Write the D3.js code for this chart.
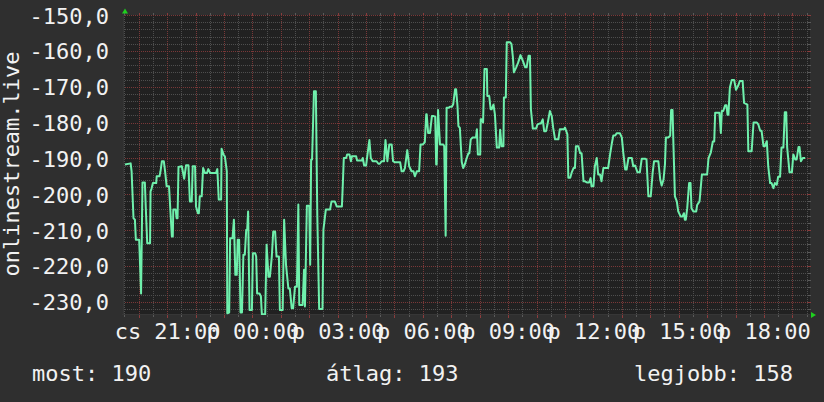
<!DOCTYPE html>
<html><head><meta charset="utf-8">
<script src="https://cdn.jsdelivr.net/npm/d3@7"></script>
<style>
html,body{margin:0;padding:0;background:#2f2f2f;}
svg{display:block;}
text{font-family:"DejaVu Sans Mono",monospace;font-size:22px;fill:#f2f2f2;}
</style></head><body>
<svg id="c" width="824" height="402"></svg>
<script>
// minutes after Thursday 19:00
const timeMinutes = [
31,43,45,49,52,54,61,65,68,73,
75,78,84,85,87,90,97,98,104,106,
109,113,116,119,124,126,130,132,133,138,
140,142,144,151,156,160,165,168,172,174,
179,181,185,187,189,193,196,200,204,207,
211,223,226,229,234,235,239,242,246,247,
251,253,258,261,264,267,269,272,275,278,
281,284,287,289,291,294,299,301,306,308,
310,315,318,320,327,330,334,337,341,344,
348,351,356,358,364,367,371,376,379,383,
386,390,394,397,399,406,409,411,415,420,
422,424,426,430,434,437,441,448,450,455,
464,467,474,478,489,491,493,498,500,505,
508,510,519,521,531,533,536,540,543,547,
550,554,562,566,569,573,578,581,585,589,
594,597,601,612,615,619,622,627,631,636,
640,643,647,652,655,660,664,667,668,671,
675,679,683,686,688,689,692,696,703,705,
708,710,714,717,721,724,728,730,733,735,
738,742,745,749,752,756,758,761,765,772,
774,776,781,782,784,787,790,795,796,800,
803,805,809,812,816,821,823,826,830,831,
835,837,844,847,850,852,857,861,866,871,
876,879,883,886,888,892,899,902,906,909,
913,916,920,923,928,932,935,939,946,949,
958,960,965,967,971,974,978,981,983,988,
992,995,999,1002,1006,1011,1014,1016,1020,1023,
1027,1030,1034,1037,1041,1051,1055,1059,1062,1066,
1069,1076,1080,1083,1087,1090,1094,1101,1104,1108,
1113,1118,1122,1129,1132,1136,1141,1145,1148,1154,
1157,1161,1164,1168,1171,1173,1178,1182,1184,1187,
1189,1192,1196,1199,1204,1208,1211,1213,1215,1218,
1222,1225,1227,1231,1237,1239,1244,1249,1260,1263,
1268,1272,1275,1277,1286,1289,1291,1294,1298,1301,
1303,1305,1308,1312,1317,1321,1326,1329,1335,1338,
1345,1347,1354,1358,1365,1368,1372,1375,1379,1382,
1386,1389,1393,1396,1400,1403,1407,1410,1414,1417,
1421,1424,1427,1429,1434,1439,1442,1446,1449,1453,
1455,1458,1462,1467
];
const values = [
-191.7,-191.4,-193.6,-206.7,-207.1,-212.7,-212.7,-227.7,-196.7,-196.7,
-203.9,-213.7,-213.7,-199.2,-198.5,-196.9,-196.9,-195,-195,-193.6,
-190.8,-190.8,-194,-197.8,-197.8,-202.5,-211.8,-211.8,-204.3,-204.3,
-206.7,-206.7,-192.4,-192.2,-195.7,-191.9,-191.9,-202,-202,-192.2,
-192.2,-203.4,-205.3,-205.3,-200.6,-200.6,-192.7,-194.1,-194.1,-193,
-194.1,-194.1,-193,-201.5,-201.5,-187.3,-188.9,-189.5,-193.6,-233.2,
-233,-212.3,-212.3,-207.1,-222.5,-222.5,-212.7,-212.7,-233,-233,
-216.9,-216.9,-209.9,-209.9,-204.8,-232.3,-232.3,-216.5,-216.5,-217.4,
-227.7,-227.7,-228.5,-233.5,-233.5,-214.1,-223,-223,-217.4,-210.4,
-210.4,-217.4,-217.4,-232.3,-232.3,-207.1,-219.7,-226.3,-226.3,-231.8,
-231.8,-225.8,-225.8,-202.9,-230.9,-230.9,-221.1,-231.3,-203.2,-203.2,
-219.7,-190.3,-190.3,-171.3,-171.3,-205.7,-232,-232,-209.9,-204.3,
-204.3,-202,-202,-203.4,-203.4,-196.9,-189.9,-189.9,-188.9,-188.9,
-190.8,-189.4,-189.4,-190.6,-190.6,-189.9,-192,-192,-188.9,-184.9,
-189.9,-190.8,-190.8,-191.5,-191.5,-190.8,-190.8,-184.9,-190.8,-186.1,
-186.1,-190.8,-191.1,-191.1,-193.6,-193.6,-192.7,-187.7,-192.2,-193.6,
-193.6,-195,-193.6,-193.6,-186.1,-186.1,-185.5,-177.7,-177.7,-182.9,
-182.9,-178.2,-178.2,-178.4,-191.7,-191.7,-176.5,-186.1,-186.1,-186.6,
-211.6,-175.9,-175.9,-175.6,-175.6,-174.9,-170.7,-170.7,-175.4,-181,
-181.5,-191,-192.7,-191.5,-190.1,-188.6,-188.6,-184.7,-184.2,-184.2,
-181.9,-188.9,-188.9,-179.1,-179.1,-180,-165.1,-165.1,-172.6,-172.6,
-176.3,-176.3,-175,-177.7,-187,-187,-182,-186.6,-186.6,-173,
-173,-157.6,-157.6,-158.1,-161.8,-166,-164.6,-163.3,-161.2,-162.8,
-164.6,-164.6,-161.4,-161.4,-176.3,-181.7,-181.7,-180.5,-180.3,-180.3,
-179.1,-182.4,-182.4,-180.5,-176.8,-178.2,-181.5,-184.7,-184.7,-181.9,
-181.9,-181.4,-183.3,-195.4,-195.4,-194,-192.7,-192.7,-186.6,-186.6,
-188.6,-188.6,-196.4,-196.4,-196.7,-196.7,-195.5,-197.8,-197.8,-192.2,
-189.9,-194.5,-194.5,-196.4,-192.7,-192.7,-189,-185.7,-183.6,-183.6,
-183,-183,-184.2,-188.4,-193.1,-193.1,-189.9,-189.9,-192.2,-192,
-193.9,-193.9,-190.1,-190.1,-190.3,-200.6,-200.6,-194,-190.8,-190.8,
-190.8,-195.9,-197.6,-195.9,-191.7,-184.2,-184.2,-183.7,-176.5,-176.5,
-186.6,-200.6,-202,-204.8,-206.2,-206.2,-205.3,-207.1,-207.1,-203.9,
-196.9,-196.9,-203.9,-204.8,-204.8,-203,-202,-194.5,-194.5,-189.9,
-188.3,-185.3,-185.3,-177.3,-177.3,-182.9,-176.8,-176.8,-175.2,-175.2,
-177.8,-177.8,-170.3,-168.1,-168.1,-170.9,-169.6,-168.4,-168.4,-174.5,
-175,-188,-188,-180,-180,-180.5,-182.3,-182.3,-186.6,-186.6,
-185.2,-192.2,-196.9,-196.9,-198.3,-196.9,-197.4,-195.1,-195.1,-187,
-187,-177.1,-177.1,-187,-193.9,-193.9,-188.9,-190.3,-190.3,-186.8,
-186.8,-190.8,-189.9,-189.9
];
const yTickValues = [-150,-160,-170,-180,-190,-200,-210,-220,-230];
const yMinorValues = d3.range(-232, -150, 2).filter(v => v % 10 !== 0);
const dayNames = ["v","h","k","sze","cs","p","szo"];
const legendItems = ["most: 190", "átlag: 193", "legjobb: 158"];
const yTitle = "onlinestream.live";
const domainMinutes = [26.85, 1477.2];
const yDomain = [-233.7, -150];

const plot = {l:123, r:810, t:15, b:315};
const base = new Date(2024, 0, 4, 19, 0, 0);
const toDate = m => new Date(base.getTime() + m * 60000);
const data = timeMinutes.map((m, i) => ({t: toDate(m), v: values[i]}));

const svg = d3.select("#c");
const x = d3.scaleTime().domain(domainMinutes.map(toDate)).range([plot.l, plot.r]);
const y = d3.scaleLinear().domain(yDomain).range([plot.b, plot.t]);
const px = v => Math.round(v) + 0.5;

svg.append("rect").attr("width", 824).attr("height", 402).attr("fill", "#2f2f2f");
svg.append("rect").attr("x", plot.l).attr("y", plot.t)
  .attr("width", plot.r - plot.l).attr("height", plot.b - plot.t).attr("fill", "#212121");

const minorCol = "#4e4e4e", majorCol = "#7a3838";
const minorV = x.ticks(d3.timeMinute.every(30)).filter(d => d.getMinutes() !== 0);
const majorV = x.ticks(d3.timeHour.every(1));
const g = svg.append("g").attr("shape-rendering", "crispEdges");

// minor grid
g.selectAll(".mh").data(yMinorValues).join("line")
  .attr("x1", plot.l).attr("x2", plot.r).attr("y1", d => px(y(d))).attr("y2", d => px(y(d)))
  .attr("stroke", minorCol).attr("stroke-dasharray", "1,1");
g.selectAll(".mv").data(minorV).join("line")
  .attr("y1", plot.t).attr("y2", plot.b).attr("x1", d => px(x(d))).attr("x2", d => px(x(d)))
  .attr("stroke", minorCol).attr("stroke-dasharray", "1,1");
// major grid
g.selectAll(".Mh").data(yTickValues).join("line")
  .attr("x1", plot.l).attr("x2", plot.r).attr("y1", d => px(y(d))).attr("y2", d => px(y(d)))
  .attr("stroke", majorCol).attr("stroke-dasharray", "1,1");
g.selectAll(".Mv").data(majorV).join("line")
  .attr("y1", plot.t).attr("y2", plot.b).attr("x1", d => px(x(d))).attr("x2", d => px(x(d)))
  .attr("stroke", majorCol).attr("stroke-dasharray", "1,1");

// tick marks outside
const tk = svg.append("g").attr("shape-rendering", "crispEdges");
tk.selectAll(".tmi").data(minorV).join("line")
  .attr("x1", d => px(x(d))).attr("x2", d => px(x(d))).attr("y1", plot.b).attr("y2", plot.b + 2)
  .attr("stroke", "#5a5a5a");
tk.selectAll(".tma").data(majorV).join("line")
  .attr("x1", d => px(x(d))).attr("x2", d => px(x(d))).attr("y1", plot.b).attr("y2", plot.b + 3)
  .attr("stroke", "#8a3c3c");
tk.selectAll(".tti").data(minorV).join("line")
  .attr("x1", d => px(x(d))).attr("x2", d => px(x(d))).attr("y1", plot.t - 2).attr("y2", plot.t)
  .attr("stroke", "#5a5a5a");
tk.selectAll(".tta").data(majorV).join("line")
  .attr("x1", d => px(x(d))).attr("x2", d => px(x(d))).attr("y1", plot.t - 2).attr("y2", plot.t)
  .attr("stroke", "#8a3c3c");
tk.selectAll(".tr").data(yMinorValues).join("line")
  .attr("x1", plot.r - 2).attr("x2", plot.r + 1).attr("y1", d => px(y(d))).attr("y2", d => px(y(d)))
  .attr("stroke", "#5a5a5a");
tk.selectAll(".tR").data(yTickValues).join("line")
  .attr("x1", plot.r - 2).attr("x2", plot.r + 1).attr("y1", d => px(y(d))).attr("y2", d => px(y(d)))
  .attr("stroke", "#8a3c3c");

// axis lines
tk.append("line").attr("x1", plot.l - 1).attr("x2", plot.r).attr("y1", plot.b - 0.5).attr("y2", plot.b - 0.5)
  .attr("stroke", "#363636");
tk.append("line").attr("x1", plot.l + 0.5).attr("x2", plot.l + 0.5).attr("y1", plot.t).attr("y2", plot.b)
  .attr("stroke", "#363636");

// data line
svg.append("clipPath").attr("id", "clip").append("rect")
  .attr("x", plot.l).attr("y", plot.t).attr("width", plot.r - plot.l).attr("height", plot.b - plot.t);
svg.append("path").datum(data)
  .attr("clip-path", "url(#clip)")
  .attr("fill", "none").attr("stroke", "#6ff0ac").attr("stroke-width", 2)
  .attr("stroke-linejoin", "round")
  .attr("d", d3.line().x(d => x(d.t)).y(d => y(d.v)));

// arrows
svg.append("path").attr("fill", "#1fd01f")
  .attr("d", `M${plot.l - 1},${plot.t - 1.5}L${plot.l + 5},${plot.t - 1.5}L${plot.l + 2},${plot.t - 6.5}Z`);
svg.append("path").attr("fill", "#1fd01f")
  .attr("d", `M${plot.r + 1},${plot.b - 3}L${plot.r + 1},${plot.b + 3}L${plot.r + 6},${plot.b}Z`);

// axes labels
const loc = d3.formatLocale({decimal: ",", thousands: " ", grouping: [3], currency: ["", ""], minus: "-"});
const fmtY = loc.format(".1f");
const fmtT = d3.timeFormat("%H:%M");

const yAxis = svg.append("g").attr("transform", `translate(109,0)`)
  .call(d3.axisLeft(y).tickValues(yTickValues).tickSize(0).tickPadding(0).tickFormat(fmtY));
yAxis.select(".domain").remove();
yAxis.selectAll("text").attr("dy", 8).attr("x", 0);

const xAxis = svg.append("g").attr("transform", `translate(0,339)`)
  .call(d3.axisBottom(x).tickValues(x.ticks(d3.timeHour.every(3))).tickSize(0).tickPadding(0)
    .tickFormat(d => dayNames[d.getDay()] + " " + fmtT(d)));
xAxis.select(".domain").remove();
xAxis.selectAll("text").attr("dy", 0).attr("y", 0);

// y title
svg.append("text").attr("transform", "translate(18.5,164) rotate(-90)")
  .attr("text-anchor", "middle").text(yTitle);

// legend
const legendX = [32, 326, 634];
svg.selectAll(".leg").data(legendItems).join("text")
  .attr("x", (d, i) => legendX[i]).attr("y", 381).text(d => d);
</script>
</body></html>
